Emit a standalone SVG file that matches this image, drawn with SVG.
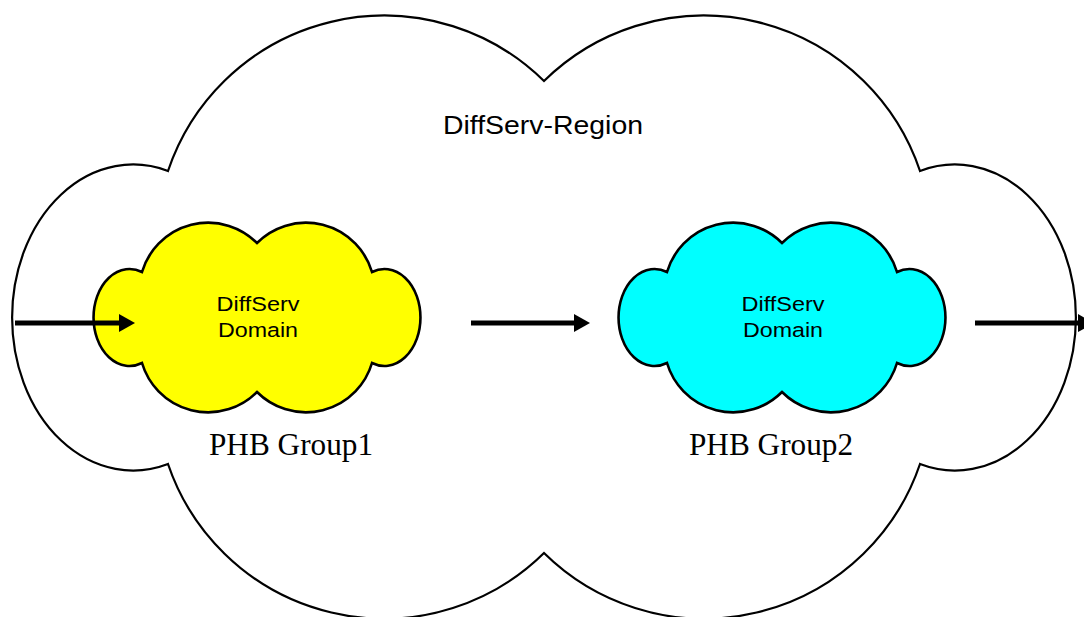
<svg xmlns="http://www.w3.org/2000/svg" width="1084" height="617" viewBox="0 0 1084 617">
  <style>
    .cloud-big { fill: #ffffff; stroke: #000000; stroke-width: 2.2; stroke-linejoin: miter; }
    .cloud-small { stroke: #000000; stroke-width: 2.6; stroke-linejoin: miter; }
    .sans { font-family: "Liberation Sans", Arial, sans-serif; fill: #000000; text-anchor: middle; }
    .serif { font-family: "Liberation Serif", "Times New Roman", serif; fill: #000000; text-anchor: middle; }
    .arrow { stroke: #000000; stroke-width: 5; fill: none; marker-end: url(#head); }
  </style>
  <defs>
    <marker id="head" markerUnits="userSpaceOnUse" viewBox="0 0 16 18" markerWidth="16" markerHeight="18" refX="6" refY="9" orient="auto">
      <path d="M0,0 L16,9 L0,18 Z" fill="#000000"/>
    </marker>
  </defs>
  <rect x="0" y="0" width="1084" height="617" fill="#ffffff"/>

  <g id="region">
    <path class="cloud-big" d="M168,171 A228,228 0 0 1 544,81 A228,228 0 0 1 920,171 A121,153 0 1 1 920,464 A228,228 0 0 1 544,553 A228,228 0 0 1 168,464 A121,153 0 1 1 168,171 Z"/>
    <text class="sans" x="543" y="134" font-size="25" textLength="200" lengthAdjust="spacingAndGlyphs">DiffServ-Region</text>
  </g>

  <g id="domain1">
    <path class="cloud-small" fill="#ffff00" d="M142,272 A69,69 0 0 1 257,243 A69,69 0 0 1 372,272 A36,48.5 0 1 1 372,363 A69,69 0 0 1 257,392 A69,69 0 0 1 142,363 A36,48.5 0 1 1 142,272 Z"/>
    <text class="sans" x="258" y="311" font-size="20.5" textLength="83" lengthAdjust="spacingAndGlyphs">DiffServ</text>
    <text class="sans" x="258" y="337" font-size="20.5" textLength="80" lengthAdjust="spacingAndGlyphs">Domain</text>
    <text class="serif" x="291" y="455" font-size="31" textLength="164" lengthAdjust="spacingAndGlyphs">PHB Group1</text>
  </g>

  <g id="domain2">
    <path class="cloud-small" fill="#00ffff" d="M667,272 A69,69 0 0 1 782,243 A69,69 0 0 1 897,272 A36,48.5 0 1 1 897,363 A69,69 0 0 1 782,392 A69,69 0 0 1 667,363 A36,48.5 0 1 1 667,272 Z"/>
    <text class="sans" x="783" y="311" font-size="20.5" textLength="83" lengthAdjust="spacingAndGlyphs">DiffServ</text>
    <text class="sans" x="783" y="337" font-size="20.5" textLength="80" lengthAdjust="spacingAndGlyphs">Domain</text>
    <text class="serif" x="771" y="455" font-size="31" textLength="164" lengthAdjust="spacingAndGlyphs">PHB Group2</text>
  </g>

  <g id="connectors">
    <line class="arrow" x1="15" y1="323" x2="125" y2="323"/>
    <line class="arrow" x1="471" y1="323" x2="580" y2="323"/>
    <line class="arrow" x1="975" y1="323" x2="1084" y2="323"/>
  </g>
</svg>
